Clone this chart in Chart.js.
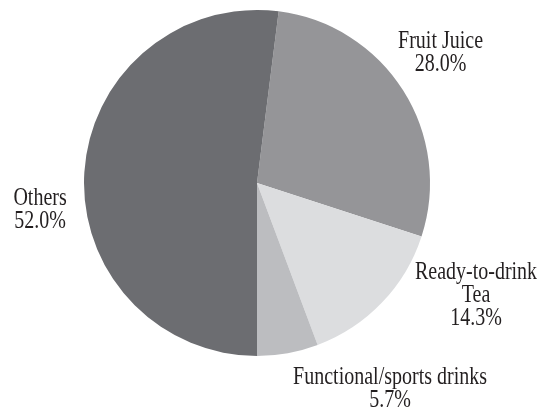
<!DOCTYPE html>
<html>
<head>
<meta charset="utf-8">
<script src="https://cdn.jsdelivr.net/npm/chart.js@4"></script>
<style>
  html, body { margin: 0; padding: 0; background: #fff; }
  #wrap { width: 539px; height: 412px; }
</style>
</head>
<body>
<div id="wrap"><canvas id="myChart" width="539" height="412"></canvas></div>
<script>
const categories = ['Fruit Juice', 'Ready-to-drink Tea', 'Functional/sports drinks', 'Others'];
const shares = [28.0, 14.3, 5.7, 52.0];
const sliceColors = ['#959598', '#dcdddf', '#bcbdc0', '#6c6d71'];

// label text split into lines, and where each label block sits (in units of the pie radius)
const labelLines = [['Fruit Juice'], ['Ready-to-drink', 'Tea'], ['Functional/sports drinks'], ['Others']];
const labelOffsets = [[1.061, -0.752], [1.266, 0.650], [0.769, 1.188], [-1.254, 0.156]];

const sliceLabels = {
    id: 'sliceLabels',
    afterDatasetsDraw(chart) {
        const ctx = chart.ctx;
        const arcs = chart.getDatasetMeta(0).data;
        ctx.save();
        ctx.fillStyle = '#231f20';
        ctx.font = '25px "Liberation Serif"';
        ctx.textAlign = 'center';
        ctx.textBaseline = 'middle';
        const lineH = 23;
        arcs.forEach((arc, i) => {
            const r = arc.outerRadius;
            const cx = arc.x + labelOffsets[i][0] * r;
            const cy = arc.y + labelOffsets[i][1] * r;
            const lines = labelLines[i].concat([shares[i].toFixed(1) + '%']);
            const top = cy - (lines.length - 1) * lineH / 2;
            lines.forEach((t, k) => {
                // the label face is a narrow serif, so squeeze it sideways
                ctx.save();
                ctx.translate(cx, top + k * lineH);
                ctx.scale(0.8, 1);
                ctx.fillText(t, 0, 0);
                ctx.restore();
            });
        });
        ctx.restore();
    }
};

const ctx = document.getElementById('myChart').getContext('2d');
const myChart = new Chart(ctx, {
    type: 'pie',
    data: {
        labels: categories,
        datasets: [{
            data: shares,
            backgroundColor: sliceColors,
            borderWidth: 0
        }]
    },
    options: {
        responsive: false,
        animation: false,
        rotation: 7.2,
        layout: {
            padding: { left: 84, right: 109, top: 10, bottom: 56 }
        },
        plugins: {
            legend: { display: false },
            tooltip: { enabled: false }
        }
    },
    plugins: [sliceLabels]
});
</script>
</body>
</html>
